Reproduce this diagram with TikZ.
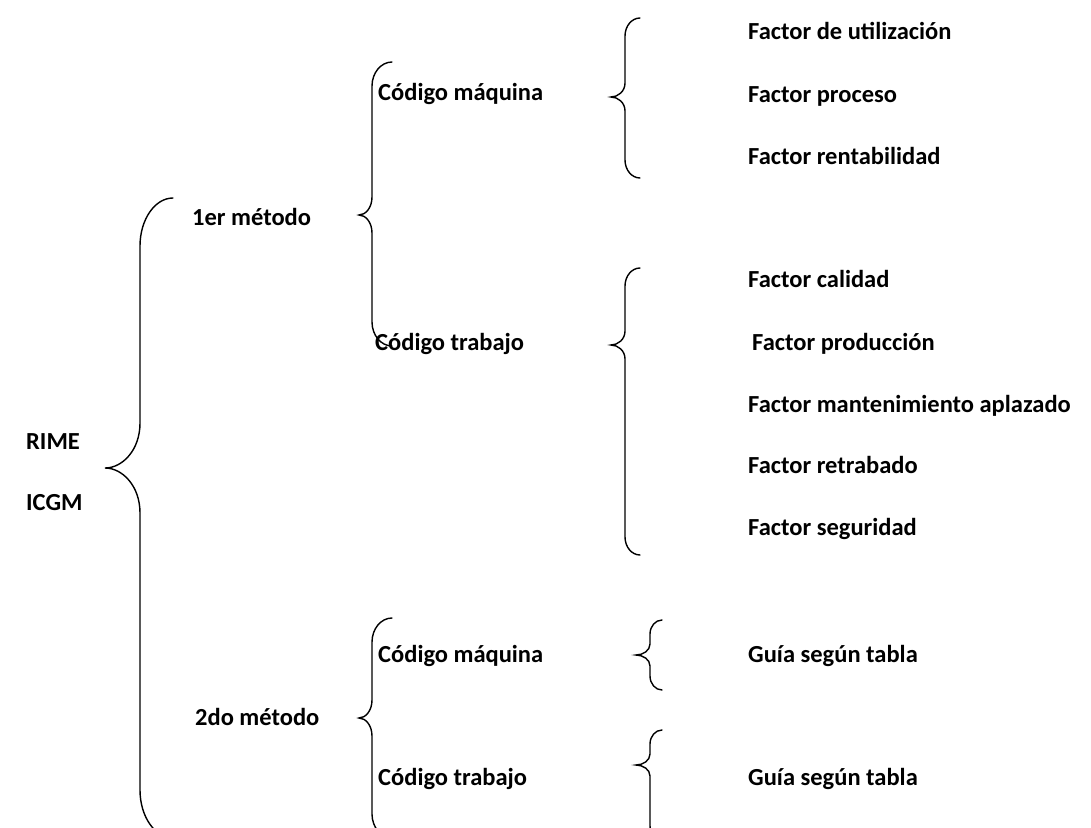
\documentclass[tikz,border=0pt]{standalone}
\usepackage{fontspec}
\setmainfont{Carlito}[UprightFont=* Bold, BoldFont=* Bold]
% curly brace: end x, vertical x, tip x, top y, tip y, bottom y, end radius, tip radius
\newcommand{\curlyb}[8]{%
  \draw[bracestroke] (#1,#4) .. controls ({#2+0.45*(#1-#2)},#4) and (#2,{#4+0.45*#7}) .. (#2,{#4+#7})
    -- (#2,{#5-#8}) .. controls (#2,{#5-0.4*#8}) and ({#3+0.5*(#2-#3)},#5) .. (#3,#5)
    .. controls ({#3+0.5*(#2-#3)},#5) and (#2,{#5+0.4*#8}) .. (#2,{#5+#8})
    -- (#2,{#6-#7}) .. controls (#2,{#6-0.45*#7}) and ({#2+0.45*(#1-#2)},#6) .. (#1,#6);}
\begin{document}
\begin{tikzpicture}[x=1pt,y=-1pt,
  lbl/.style={anchor=base west, inner sep=0pt, font=\fontsize{24.5}{28}\selectfont},
  bracestroke/.style={line width=1.4pt, line cap=round}]
\useasboundingbox (0,0) rectangle (1091,827);

% root labels
\node[lbl] (rime) at (26,449) {RIME};
\node[lbl] (icgm) at (26,510) {ICGM};

% methods
\node[lbl] (m1) at (192,225) {1er método};
\node[lbl] (m2) at (195,725) {2do método};

% codes
\node[lbl] (c1m) at (378,100) {Código máquina};
\node[lbl] (c1t) at (375,350) {Código trabajo};
\node[lbl] (c2m) at (378,662) {Código máquina};
\node[lbl] (c2t) at (378,785) {Código trabajo};

% factors
\node[lbl] (f1) at (748,39) {Factor de utilización};
\node[lbl] (f2) at (748,102) {Factor proceso};
\node[lbl] (f3) at (748,164) {Factor rentabilidad};
\node[lbl] (f4) at (748,287) {Factor calidad};
\node[lbl] (f5) at (752,350) {Factor producción};
\node[lbl] (f6) at (748,412) {Factor mantenimiento aplazado};
\node[lbl] (f7) at (748,473) {Factor retrabado};
\node[lbl] (f8) at (748,535) {Factor seguridad};
\node[lbl] (g1) at (748,662) {Guía según tabla};
\node[lbl] (g2) at (748,785) {Guía según tabla};

% braces
\curlyb{173}{140}{105}{198}{468}{838}{48}{45}
\curlyb{392}{372}{359}{62}{215}{346}{24}{18}
\curlyb{640}{625}{611}{18}{97}{178}{18}{14}
\curlyb{640}{625}{611}{268}{345}{555}{18}{14}
\curlyb{392}{372}{359}{618}{718}{838}{24}{18}
\curlyb{662}{650}{636}{620}{655}{690}{14}{11}
\curlyb{662}{650}{636}{730}{765}{840}{14}{11}
\end{tikzpicture}
\end{document}
